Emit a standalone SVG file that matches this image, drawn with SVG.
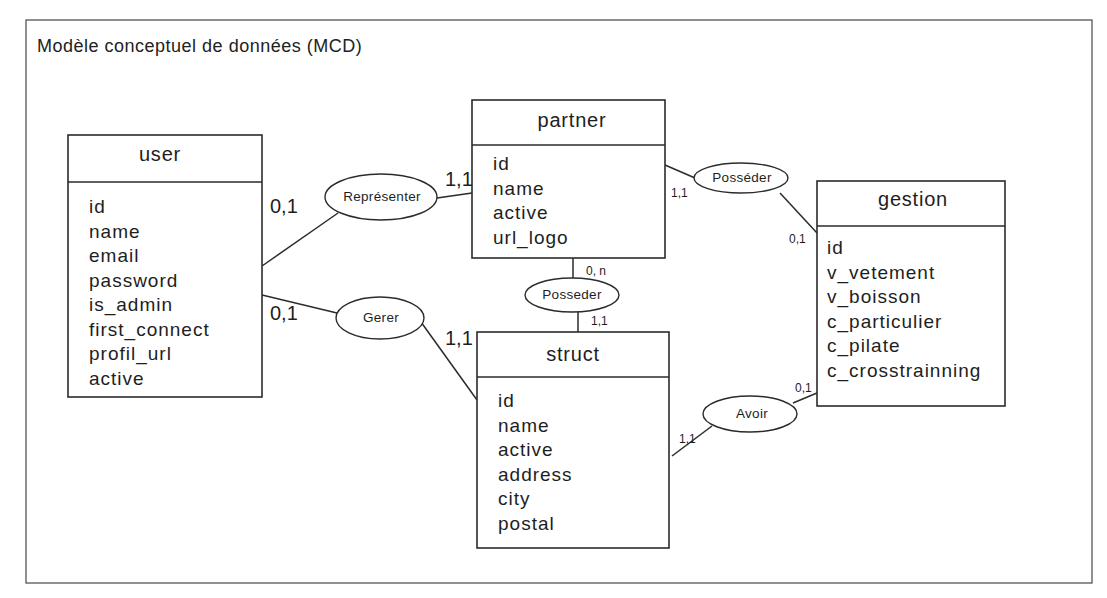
<svg xmlns="http://www.w3.org/2000/svg" width="1107" height="598" viewBox="0 0 1107 598">
<style>
.frame{fill:#fff;stroke:#555;stroke-width:1.3}
.box{fill:#fff;stroke:#2b2b2b;stroke-width:1.6}
.div{stroke:#2b2b2b;stroke-width:1.6}
.ell{fill:#fff;stroke:#2b2b2b;stroke-width:1.4}
.con line{stroke:#2b2b2b;stroke-width:1.5}
.t{font-family:"Liberation Sans",Arial,sans-serif;fill:#1e1e1e}
.hd{font-size:20px;text-anchor:middle;letter-spacing:0.8px}
.at{font-size:19px;letter-spacing:1px}
.rl{font-size:13.5px;text-anchor:middle;letter-spacing:0.3px}
.cb{font-size:20px}
.cs{font-size:12px}
.title{font-size:18px;letter-spacing:0.5px;fill:#222}
</style>
<rect width="1107" height="598" fill="#fff"/>
<rect class="frame" x="26" y="20" width="1066" height="563"/>
<text class="t title" x="37" y="52">Modèle conceptuel de données (MCD)</text>

<g class="con" id="connectors">
<line x1="262" y1="266" x2="338" y2="213"/>
<line x1="437" y1="198" x2="472" y2="193"/>
<line x1="262" y1="295" x2="337" y2="313"/>
<line x1="421" y1="322" x2="477" y2="400"/>
<line x1="665" y1="165" x2="695" y2="178"/>
<line x1="780" y1="193" x2="817" y2="233"/>
<line x1="573" y1="258" x2="573" y2="278"/>
<line x1="578" y1="312" x2="578" y2="332"/>
<line x1="793" y1="403" x2="817" y2="393"/>
<line x1="712" y1="426" x2="672" y2="456"/>
</g>

<g id="user">
<rect class="box" x="68" y="135" width="194" height="262"/>
<line class="div" x1="68" y1="182" x2="262" y2="182"/>
<text class="t hd" x="160" y="161">user</text>
<text class="t at" x="89" y="213">id</text>
<text class="t at" x="89" y="237.5">name</text>
<text class="t at" x="89" y="262">email</text>
<text class="t at" x="89" y="286.5">password</text>
<text class="t at" x="89" y="311">is_admin</text>
<text class="t at" x="89" y="335.5">first_connect</text>
<text class="t at" x="89" y="360">profil_url</text>
<text class="t at" x="89" y="384.5">active</text>
</g>

<g id="partner">
<rect class="box" x="472" y="100" width="193" height="158"/>
<line class="div" x1="472" y1="145" x2="665" y2="145"/>
<text class="t hd" x="572" y="127">partner</text>
<text class="t at" x="493" y="170">id</text>
<text class="t at" x="493" y="194.5">name</text>
<text class="t at" x="493" y="219">active</text>
<text class="t at" x="493" y="243.5">url_logo</text>
</g>

<g id="gestion">
<rect class="box" x="817" y="181" width="188" height="225"/>
<line class="div" x1="817" y1="226" x2="1005" y2="226"/>
<text class="t hd" x="913" y="206">gestion</text>
<text class="t at" x="827" y="254">id</text>
<text class="t at" x="827" y="278.5">v_vetement</text>
<text class="t at" x="827" y="303">v_boisson</text>
<text class="t at" x="827" y="327.5">c_particulier</text>
<text class="t at" x="827" y="352">c_pilate</text>
<text class="t at" x="827" y="376.5">c_crosstrainning</text>
</g>

<g id="struct">
<rect class="box" x="477" y="332" width="192" height="216"/>
<line class="div" x1="477" y1="377" x2="669" y2="377"/>
<text class="t hd" x="573" y="361">struct</text>
<text class="t at" x="498" y="407">id</text>
<text class="t at" x="498" y="431.5">name</text>
<text class="t at" x="498" y="456">active</text>
<text class="t at" x="498" y="480.5">address</text>
<text class="t at" x="498" y="505">city</text>
<text class="t at" x="498" y="529.5">postal</text>
</g>

<g id="representer">
<ellipse class="ell" cx="381" cy="197" rx="56" ry="23"/>
<text class="t rl" x="382" y="201">Représenter</text>
</g>
<g id="gerer">
<ellipse class="ell" cx="380" cy="318" rx="44" ry="21"/>
<text class="t rl" x="381" y="322">Gerer</text>
</g>
<g id="posseder1">
<ellipse class="ell" cx="741" cy="178" rx="47" ry="15"/>
<text class="t rl" x="742" y="182">Posséder</text>
</g>
<g id="posseder2">
<ellipse class="ell" cx="572" cy="295" rx="47" ry="17"/>
<text class="t rl" x="572" y="299">Posseder</text>
</g>
<g id="avoir">
<ellipse class="ell" cx="750" cy="414" rx="47" ry="18"/>
<text class="t rl" x="752" y="418">Avoir</text>
</g>

<g id="cardinalities">
<text class="t cb" x="270" y="213">0,1</text>
<text class="t cb" x="270" y="320">0,1</text>
<text class="t cb" x="445" y="186">1,1</text>
<text class="t cb" x="445" y="345">1,1</text>
<text class="t cs" x="671" y="197">1,1</text>
<text class="t cs" x="789" y="243">0,1</text>
<text class="t cs" x="586" y="275">0, n</text>
<text class="t cs" x="591" y="325">1,1</text>
<text class="t cs" x="795" y="392">0,1</text>
<text class="t cs" x="679" y="443">1,1</text>
</g>
</svg>
